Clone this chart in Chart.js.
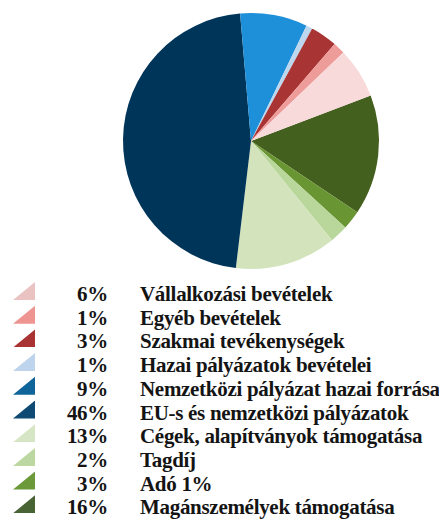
<!DOCTYPE html>
<html>
<head>
<meta charset="utf-8">
<script src="https://cdn.jsdelivr.net/npm/chart.js@4"></script>
<style>
  html, body { margin: 0; padding: 0; background: #fff; }
  #wrap { position: relative; width: 439px; height: 520px; overflow: hidden; }
  #pie { position: absolute; left: 0; top: 0; }
  .row { position: absolute; left: 0; height: 24px; width: 439px;
         font-family: "Liberation Serif", "Times New Roman", serif; font-weight: bold;
         font-size: 21px; line-height: 24px; letter-spacing: -0.3px; color: #141414; white-space: nowrap; }
  .tri { position: absolute; left: 13px; top: 0px; width: 22px; height: 18px;
         clip-path: polygon(100% 0, 100% 100%, 0 100%); }
  .pct { position: absolute; left: 30px; width: 78px; text-align: right; top: 0; }
  .lab { position: absolute; left: 140px; top: 0; }
</style>
</head>
<body>
<div id="wrap">
  <canvas id="pie" width="439" height="270"></canvas>
  <div id="legend"></div>
</div>
<script>
// Legend order (as listed in the reference)
const categories = [
  "Vállalkozási bevételek",
  "Egyéb bevételek",
  "Szakmai tevékenységek",
  "Hazai pályázatok bevételei",
  "Nemzetközi pályázat hazai forrása",
  "EU-s és nemzetközi pályázatok",
  "Cégek, alapítványok támogatása",
  "Tagdíj",
  "Adó 1%",
  "Magánszemélyek támogatása"
];
// Percent labels as printed
const percentLabels = ["6%", "1%", "3%", "1%", "9%", "46%", "13%", "2%", "3%", "16%"];
// Slice sizes as measured from the pie
const values = [6.4, 1.5, 3.4, 0.8, 8.5, 46.8, 12.8, 2.3, 2.4, 15.2];
const sliceColors = ["#F8DADA", "#EE9C9A", "#A93434", "#BDD7EE", "#1E8FD9",
                     "#00355A", "#D3E3BC", "#B9D79B", "#6A9533", "#44601E"];
const iconColors  = ["#EAC2C2", "#EE9592", "#A93232", "#BDD4EC", "#0F6499",
                     "#0E4A74", "#D6E6C4", "#BCD79F", "#6C9A3A", "#496434"];

// The pie is drawn clockwise in reverse legend order
const rev = a => a.slice().reverse();

new Chart(document.getElementById('pie'), {
  type: 'pie',
  data: {
    labels: rev(categories),
    datasets: [{
      data: rev(values),
      backgroundColor: rev(sliceColors),
      borderWidth: 0,
      hoverOffset: 0
    }]
  },
  options: {
    responsive: false,
    animation: false,
    rotation: 69.2,
    layout: { padding: { left: 123, right: 60, top: 13, bottom: 1 } },
    plugins: { legend: { display: false }, tooltip: { enabled: false } }
  }
});

const legend = document.getElementById('legend');
categories.forEach((c, i) => {
  const row = document.createElement('div');
  row.className = 'row';
  row.style.top = (282 + i * 23.7) + 'px';
  const tri = document.createElement('div');
  tri.className = 'tri';
  tri.style.background = iconColors[i];
  const pct = document.createElement('div');
  pct.className = 'pct';
  pct.textContent = percentLabels[i];
  const lab = document.createElement('div');
  lab.className = 'lab';
  lab.textContent = c;
  row.appendChild(tri); row.appendChild(pct); row.appendChild(lab);
  legend.appendChild(row);
});
</script>
</body>
</html>
